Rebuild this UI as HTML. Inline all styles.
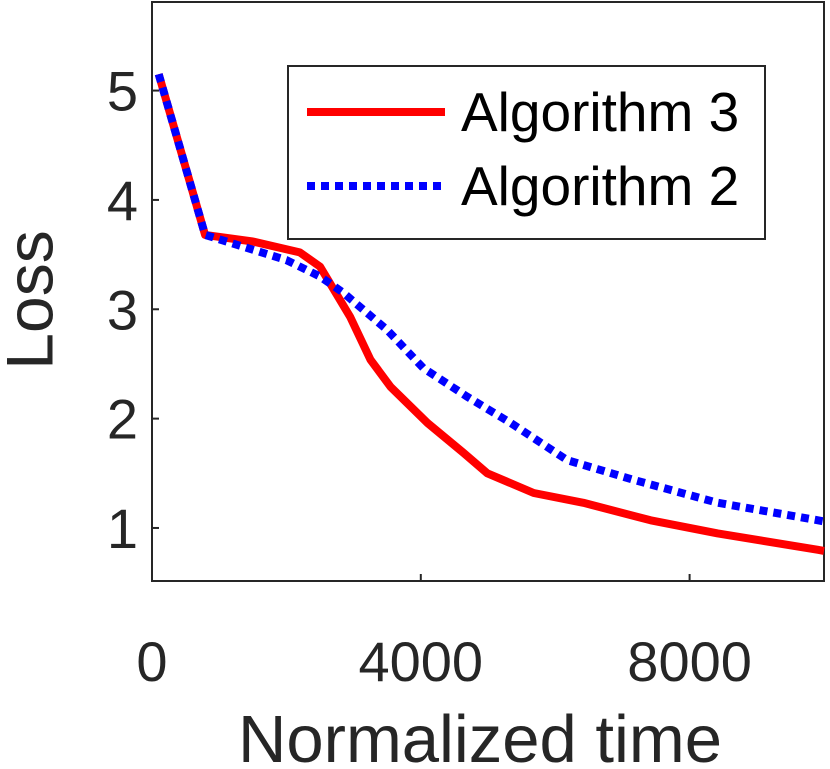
<!DOCTYPE html>
<html><head><meta charset="utf-8"><style>
html,body{margin:0;padding:0;background:#fff;}
svg{display:block;font-family:"Liberation Sans",sans-serif;}
</style></head><body>
<svg id="chart" width="830" height="769" viewBox="0 0 830 769">
<rect x="152" y="2" width="672" height="579" fill="#fff" stroke="#262626" stroke-width="2"/>
<g id="ticks"></g>
<g id="series"></g>
<text x="35" y="300" font-size="66" fill="#262626" text-anchor="middle" transform="rotate(-90 35 300)" dominant-baseline="middle">Loss</text>
<text x="480" y="762" font-size="67" fill="#262626" text-anchor="middle">Normalized time</text>
<g>
<rect x="288" y="66" width="477" height="173" fill="#fff" stroke="#262626" stroke-width="2"/>
<line x1="307" y1="112" x2="445" y2="112" stroke="#ff0000" stroke-width="8"/>
<text x="461" y="131" font-size="55" fill="#000">Algorithm 3</text>
<line x1="307" y1="186" x2="445" y2="186" stroke="#0000ff" stroke-width="8" stroke-dasharray="8,6"/>
<text x="461" y="205" font-size="55" fill="#000">Algorithm 2</text>
</g>
</svg>
<script>
const xTicks=[0,4000,8000];
const yTicks=[1,2,3,4,5];
const alg3X=[100,790,1500,2200,2500,2950,3250,3550,4100,4630,4990,5680,6420,7420,8420,9910,10000];
const alg3Y=[5.15,3.68,3.62,3.52,3.39,2.93,2.54,2.29,1.96,1.69,1.5,1.32,1.23,1.07,0.95,0.8,0.79];
const alg2X=[100,790,2000,2500,2850,3500,4040,4690,5340,6180,7170,8420,9910,10000];
const alg2Y=[5.15,3.68,3.45,3.3,3.15,2.81,2.46,2.2,1.96,1.62,1.44,1.23,1.07,1.06];
const NS='http://www.w3.org/2000/svg';
const x0=152,x1=824,y0=581,y1=2,xmin=0,xmax=10000,ymin=0.515,ymax=5.81;
function sx(v){return x0+(v-xmin)/(xmax-xmin)*(x1-x0);}
function sy(v){return y0-(v-ymin)/(ymax-ymin)*(y0-y1);}
const tg=document.getElementById('ticks');
xTicks.forEach(t=>{
 const l=document.createElementNS(NS,'line');
 l.setAttribute('x1',sx(t));l.setAttribute('x2',sx(t));l.setAttribute('y1',y0);l.setAttribute('y2',y0-7);
 l.setAttribute('stroke','#262626');l.setAttribute('stroke-width','2');
 
 
 tg.appendChild(l);
 const tx=document.createElementNS(NS,'text');
 tx.setAttribute('x',sx(t));tx.setAttribute('y',681);tx.setAttribute('font-size','56');tx.setAttribute('fill','#262626');tx.setAttribute('text-anchor','middle');
 tx.textContent=t;
 
 
 tg.appendChild(tx);
});
yTicks.forEach(t=>{
 const l=document.createElementNS(NS,'line');
 l.setAttribute('x1',x0);l.setAttribute('x2',x0+7);l.setAttribute('y1',sy(t));l.setAttribute('y2',sy(t));
 l.setAttribute('stroke','#262626');l.setAttribute('stroke-width','2');
 
 
 tg.appendChild(l);
 const tx=document.createElementNS(NS,'text');
 tx.setAttribute('x',138);tx.setAttribute('y',sy(t)+20);tx.setAttribute('font-size','56');tx.setAttribute('fill','#262626');tx.setAttribute('text-anchor','end');
 tx.textContent=t;
 
 
 tg.appendChild(tx);
});
const sg=document.getElementById('series');
function pts(xs,ys){return xs.map((x,i)=>sx(x).toFixed(1)+','+sy(ys[i]).toFixed(1)).join(' ');}
const p3=document.createElementNS(NS,'polyline');
p3.setAttribute('points',pts(alg3X,alg3Y));p3.setAttribute('fill','none');p3.setAttribute('stroke','#ff0000');p3.setAttribute('stroke-width','8');p3.setAttribute('stroke-linejoin','round');


sg.appendChild(p3);
const p2=document.createElementNS(NS,'polyline');
p2.setAttribute('points',pts(alg2X,alg2Y));p2.setAttribute('fill','none');p2.setAttribute('stroke','#0000ff');p2.setAttribute('stroke-width','8');p2.setAttribute('stroke-dasharray','8,6');


sg.appendChild(p2);
</script>
</body></html>
